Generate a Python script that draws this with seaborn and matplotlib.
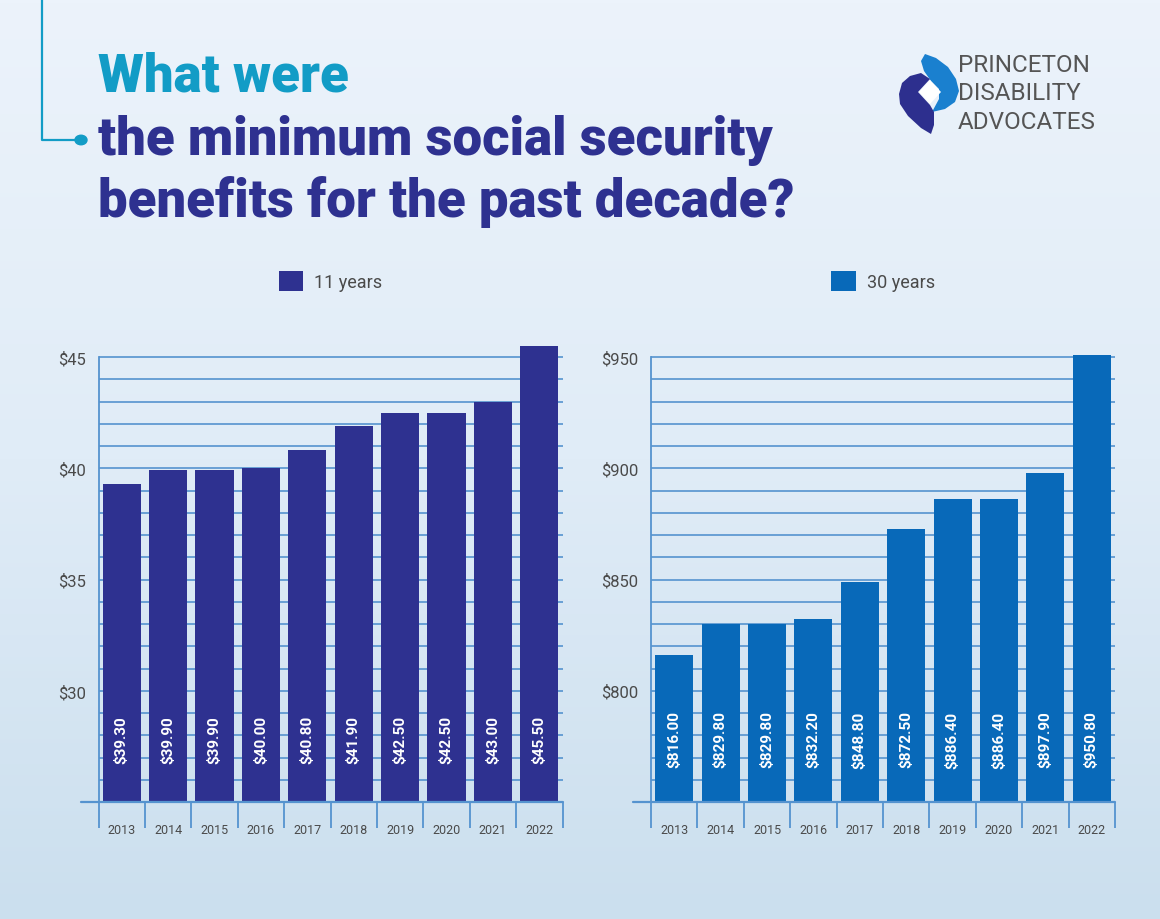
import numpy as np
import seaborn as sns
import matplotlib.pyplot as plt
import matplotlib.transforms as mtransforms
from matplotlib.patches import Patch, Polygon, Circle
from matplotlib.colors import LinearSegmentedColormap

years = ["2013", "2014", "2015", "2016", "2017", "2018", "2019", "2020", "2021", "2022"]
benefit_11 = [39.30, 39.90, 39.90, 40.00, 40.80, 41.90, 42.50, 42.50, 43.00, 45.50]
benefit_30 = [816.00, 829.80, 829.80, 832.20, 848.80, 872.50, 886.40, 886.40, 897.90, 950.80]
series_names = ["11 years", "30 years"]

title_top = "What were"
title_rest = ["the minimum social security", "benefits for the past decade?"]
logo_lines = ["PRINCETON", "DISABILITY", "ADVOCATES"]

navy = "#2e3190"
blue = "#0869b9"
teal = "#129cc6"
grid_c = "#5593cf"
text_c = "#4a4a4a"

sns.set_theme(style="white")
plt.rcParams["font.family"] = ["Roboto", "DejaVu Sans"]

W, H = 1160, 920
fig = plt.figure(figsize=(W / 100, H / 100), dpi=100)


def fx(x):
    return x / W


def fy(y):
    return 1 - y / H


# background gradient
bg = fig.add_axes([0, 0, 1, 1], zorder=-10)
grad_cmap = LinearSegmentedColormap.from_list("bg", ["#ecf3fb", "#e0ecf7", "#cbdfee"])
bg.imshow(np.linspace(0, 1, 256).reshape(-1, 1), aspect="auto", cmap=grad_cmap,
          extent=[0, 1, 0, 1])
bg.set_xlim(0, 1)
bg.set_ylim(0, 1)
bg.axis("off")

# decorative bracket line
fig.add_artist(plt.Line2D([fx(42), fx(42), fx(78)], [fy(0), fy(141), fy(141)],
                          color=teal, lw=1.6))
fig.add_artist(Circle((fx(81), fy(141)), 6 / W, transform=fig.transFigure,
                      color=teal))

# title
fig.text(fx(98), fy(92), title_top, color=teal, fontsize=38, fontweight="heavy",
         va="baseline", ha="left")
fig.text(fx(98), fy(155), title_rest[0], color=navy, fontsize=38, fontweight="heavy",
         va="baseline", ha="left")
fig.text(fx(98), fy(217), title_rest[1], color=navy, fontsize=38, fontweight="heavy",
         va="baseline", ha="left")

# logo
for i, line in enumerate(logo_lines):
    fig.text(fx(958), fy(72 + i * 28.5), line, color="#555555", fontsize=17.5,
             fontweight="normal", va="baseline", ha="left")
logo_blue = [(925, 55), (936, 59), (948, 68), (956, 80), (959, 92), (955, 103),
             (945, 110), (932, 113), (939, 100), (939, 90), (931, 82), (924, 72),
             (921, 62)]
logo_navy = [(899, 95), (902, 84), (910, 77), (921, 74), (930, 80), (918, 93),
             (930, 106), (934, 113), (934, 126), (931, 135), (921, 129), (908, 117),
             (900, 105)]
diamond = [(930, 81), (941, 93), (930, 105), (919, 93)]
for pts, col in [(logo_blue, "#1a80cf"), (logo_navy, "#2d2f8e"), (diamond, "white")]:
    fig.add_artist(Polygon([(fx(x), fy(y)) for x, y in pts], closed=True,
                           transform=fig.transFigure, facecolor=col, edgecolor="none"))

# chart panels: (left px, values, colour, ymin, ymax, grid step, label step, name)
panels = [
    (98.5, benefit_11, navy, 25, 45, 1, 5, series_names[0]),
    (651, benefit_30, blue, 750, 950, 10, 50, series_names[1]),
]
ax_w = 464
ax_bottom = 803
px_per_unit = (803 - 358) / 20.0
ax_top_units = 21.0
ax_h = px_per_unit * ax_top_units

for left, vals, col, ymin, ymax, step, major, name in panels:
    ax = fig.add_axes([fx(left), fy(ax_bottom), ax_w / W, ax_h / H])
    ax.set_facecolor("none")
    top = ymin + ax_top_units * (ymax - ymin) / 20.0
    # grid lines
    for g in np.arange(ymin + step, ymax + step / 2, step):
        ax.axhline(g, color=grid_c, lw=1.2, zorder=0)
    sns.barplot(x=years, y=vals, color=col, width=0.82, linewidth=0, saturation=1,
                ax=ax, zorder=2)
    ax.set_xlim(-0.5, 9.5)
    ax.set_ylim(ymin, top)
    ax.set_xlabel("")
    ax.set_ylabel("")
    for s in ["top", "right", "bottom"]:
        ax.spines[s].set_visible(False)
    ax.spines["left"].set_bounds(ymin, ymax)
    ax.spines["left"].set_color(grid_c)
    ax.spines["left"].set_linewidth(1.3)
    ax.axhline(ymin, xmin=-18 / ax_w, xmax=1, color=grid_c, lw=1.6, clip_on=False,
               zorder=3)
    ax.set_yticks(np.arange(ymin + major, ymax + 1, major))
    ax.set_yticklabels([f"${int(t)}" for t in np.arange(ymin + major, ymax + 1, major)])
    ax.tick_params(axis="y", length=0, pad=9, labelsize=12, labelcolor=text_c)
    ax.set_xticks(range(len(years)))
    ax.set_xticklabels(years)
    ax.set_xticks(np.arange(-0.5, 10, 1), minor=True)
    ax.tick_params(axis="x", which="major", length=0, pad=15, labelsize=9,
                   labelcolor=text_c)
    ax.tick_params(axis="x", which="minor", length=19, width=1.3, color=grid_c,
                   bottom=True, direction="out")
    trans = mtransforms.blended_transform_factory(ax.transData, ax.transAxes)
    for i, v in enumerate(vals):
        ax.text(i, (ax_bottom - 740) / ax_h, f"${v:.2f}", transform=trans,
                rotation=90, ha="center", va="center", color="white",
                fontsize=11, fontweight="bold", zorder=5)
    handle = Patch(facecolor=col, edgecolor="none")
    ax.legend([handle], [name], loc="center", bbox_to_anchor=(0.5, 1 + 54 / ax_h),
              frameon=False, fontsize=13, handlelength=1.35, handleheight=1.35,
              handletextpad=0.6, labelcolor=text_c)

fig.savefig("out.png", dpi=100)
